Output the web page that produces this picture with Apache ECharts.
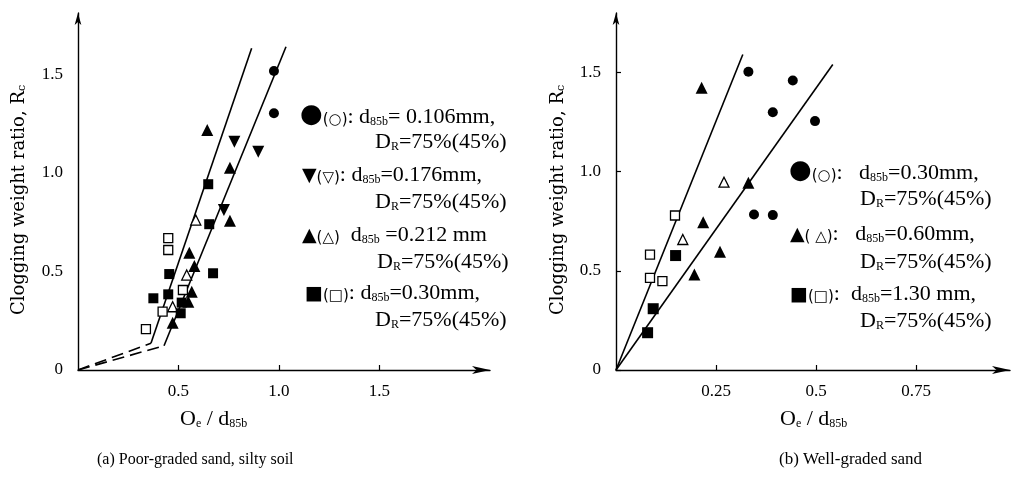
<!DOCTYPE html>
<html><head><meta charset="utf-8">
<script src="https://cdn.jsdelivr.net/npm/echarts@6/dist/echarts.min.js"></script>
<style>html,body{margin:0;padding:0;background:#fff}#c{width:1011px;height:483px}</style>
</head><body><div id="c"></div>
<script>
// ---- tick labels ----
const xTicksA = [0.5, 1.0, 1.5];
const xTicksB = [0.25, 0.5, 0.75];
const yTicks = [0, 0.5, 1.0, 1.5];

// ---- (a) Poor-graded sand, silty soil ----
const aCircleFilled = [[0.975, 1.518], [0.975, 1.303]];
const aDownTriFilled = [[0.778, 1.159], [0.897, 1.108], [0.726, 0.812]];
const aUpTriFilled = [[0.643, 1.218], [0.756, 1.027], [0.756, 0.758], [0.554, 0.595], [0.579, 0.528], [0.566, 0.397], [0.549, 0.347], [0.471, 0.240]];
const aUpTriOpen = [[0.586, 0.761], [0.541, 0.482], [0.471, 0.321]];
const aSquareFilled = [[0.648, 0.943], [0.653, 0.740], [0.672, 0.491], [0.454, 0.487], [0.449, 0.384], [0.375, 0.364], [0.516, 0.342], [0.511, 0.288]];
const aSquareOpen = [[0.449, 0.669], [0.449, 0.609], [0.522, 0.406], [0.421, 0.296], [0.338, 0.207]];
const aLine1Dash = [[0, 0], [0.363, 0.136]];
const aLine1 = [[0.363, 0.136], [0.864, 1.633]];
const aLine2Dash = [[0, 0], [0.428, 0.123]];
const aLine2 = [[0.428, 0.123], [1.035, 1.641]];

// ---- (b) Well-graded sand ----
const bCircleFilled = [[0.331, 1.504], [0.442, 1.46], [0.392, 1.30], [0.4975, 1.255], [0.345, 0.784], [0.392, 0.781]];
const bUpTriFilled = [[0.214, 1.423], [0.331, 0.944], [0.218, 0.745], [0.26, 0.596], [0.196, 0.482]];
const bUpTriOpen = [[0.27, 0.947], [0.167, 0.658]];
const bSquareFilled = [[0.149, 0.577], [0.093, 0.309], [0.079, 0.188]];
const bSquareOpen = [[0.1475, 0.779], [0.085, 0.582], [0.085, 0.465], [0.116, 0.448]];
const bLine1 = [[0, 0], [0.317, 1.591]];
const bLine2 = [[0, 0], [0.542, 1.54]];

const SERIF = 'Liberation Serif';
const WSERIF = 'DejaVu Serif';
const SYM = 'DejaVu Sans';
const chart = echarts.init(document.getElementById('c'), null, {renderer: 'canvas'});

function yFmt(v) { return v === 0 ? '0' : v.toFixed(1); }

function axisPair(gi, xmax, ymax, xTicks, xFmt, showYTicks) {
  const xa = {
    type: 'value', gridIndex: gi, min: 0, max: xmax,
    axisLine: {show: true, onZero: false, lineStyle: {color: '#000', width: 1.4}, symbol: ['none', 'arrow'], symbolSize: [6, 18]},
    axisTick: {show: true, inside: true, length: 5, customValues: xTicks, lineStyle: {color: '#000', width: 1.2}},
    axisLabel: {show: true, customValues: xTicks, formatter: xFmt, color: '#000', fontFamily: SERIF, fontSize: 17, margin: 13},
    splitLine: {show: false}
  };
  const ya = {
    type: 'value', gridIndex: gi, min: 0, max: ymax,
    axisLine: {show: true, onZero: false, lineStyle: {color: '#000', width: 1.4}, symbol: ['none', 'arrow'], symbolSize: [5, 12]},
    axisTick: {show: showYTicks, inside: true, length: 5, customValues: yTicks, lineStyle: {color: '#000', width: 1.2}},
    axisLabel: {show: true, customValues: yTicks, formatter: yFmt, color: '#000', fontFamily: SERIF, fontSize: 17, margin: 15},
    splitLine: {show: false}
  };
  return [xa, ya];
}

const [xa0, ya0] = axisPair(0, 2.05, 1.812, xTicksA, v => v.toFixed(1), false);
const [xa1, ya1] = axisPair(1, 0.985, 1.8, xTicksB, v => String(v), true);

function scatter(name, gi, data, symbol, size, filled, rotate) {
  return {
    name, type: 'scatter', xAxisIndex: gi, yAxisIndex: gi, data,
    symbol, symbolSize: size, symbolRotate: rotate || 0,
    itemStyle: filled ? {color: '#000', opacity: 1} : {color: '#fff', borderColor: '#000', borderWidth: 1.3, opacity: 1},
    z: 5
  };
}
function line(gi, data, dashed) {
  return {
    type: 'line', xAxisIndex: gi, yAxisIndex: gi, data, symbol: 'none', silent: true,
    lineStyle: {color: '#000', width: 1.6, type: dashed ? [12, 6] : 'solid'}, z: 3
  };
}

const richBase = {
  t: {fontFamily: SERIF, fontSize: 22, color: '#000', verticalAlign: 'bottom'},
  s: {fontFamily: SERIF, fontSize: 12, color: '#000', verticalAlign: 'bottom'},
  big: {fontFamily: SYM, fontSize: 26, color: '#000', verticalAlign: 'bottom'},
  mid: {fontFamily: SYM, fontSize: 19, color: '#000', verticalAlign: 'bottom'},
  sm: {fontFamily: SYM, fontSize: 15, color: '#000', verticalAlign: 'bottom'},
  w: {fontFamily: WSERIF, fontSize: 18, color: '#000', verticalAlign: 'bottom'},
  ws: {fontFamily: WSERIF, fontSize: 11, color: '#000', verticalAlign: 'bottom'}
};
function txt(x, y, text, extra) {
  return Object.assign({type: 'text', x, y, style: {text, rich: richBase, verticalAlign: 'middle', align: 'left'}}, extra || {});
}
function plain(x, y, text, size) {
  return {type: 'text', x, y, style: {text, fontFamily: SERIF, fontSize: size, fill: '#000', verticalAlign: 'middle', align: 'left'}};
}
function yTitle(x, y) {
  return {type: 'text', x, y, rotation: Math.PI / 2,
    style: {text: '{w|Clogging weight ratio, R}{ws|c}', rich: richBase, verticalAlign: 'middle', align: 'center'}};
}

const option = {
  backgroundColor: '#fff',
  animation: false,
  grid: [
    {left: 78, top: 13, width: 412, height: 357},
    {left: 616, top: 13, width: 394, height: 357}
  ],
  xAxis: [xa0, xa1],
  yAxis: [ya0, ya1],
  series: [
    line(0, aLine1Dash, true), line(0, aLine1, false),
    line(0, aLine2Dash, true), line(0, aLine2, false),
    scatter('a●', 0, aCircleFilled, 'circle', 10, true),
    scatter('a▼', 0, aDownTriFilled, 'triangle', 12, true, 180),
    scatter('a▲', 0, aUpTriFilled, 'triangle', 12, true),
    scatter('a△', 0, aUpTriOpen, 'triangle', 10, false),
    scatter('a■', 0, aSquareFilled, 'rect', 10, true),
    scatter('a□', 0, aSquareOpen, 'rect', 9, false),
    line(1, bLine1, false), line(1, bLine2, false),
    scatter('b●', 1, bCircleFilled, 'circle', 10, true),
    scatter('b▲', 1, bUpTriFilled, 'triangle', 12, true),
    scatter('b△', 1, bUpTriOpen, 'triangle', 10, false),
    scatter('b■', 1, bSquareFilled, 'rect', 11, true),
    scatter('b□', 1, bSquareOpen, 'rect', 9, false)
  ],
  graphic: [
    yTitle(19, 200),
    yTitle(558, 200),
    // legend (a)
    txt(300, 115, '{big|●}{sm|(○)}{t|: d}{s|85b}{t|= 0.106mm,}'),
    txt(375, 142, '{t|D}{s|R}{t|=75%(45%)}'),
    txt(302, 175, '{mid|▼}{sm|(▽)}{t|: d}{s|85b}{t|=0.176mm,}'),
    txt(375, 202, '{t|D}{s|R}{t|=75%(45%)}'),
    txt(302, 235, '{mid|▲}{sm|(△)}{t|  d}{s|85b}{t| =0.212 mm}'),
    txt(377, 262, '{t|D}{s|R}{t|=75%(45%)}'),
    txt(305, 293, '{mid|■}{sm|(□)}{t|: d}{s|85b}{t|=0.30mm,}'),
    txt(375, 320, '{t|D}{s|R}{t|=75%(45%)}'),
    // legend (b)
    txt(789, 171, '{big|●}{sm|(○)}{t|:   d}{s|85b}{t|=0.30mm,}'),
    txt(860, 199, '{t|D}{s|R}{t|=75%(45%)}'),
    txt(790, 234, '{mid|▲}{sm|( △)}{t|:   d}{s|85b}{t|=0.60mm,}'),
    txt(860, 262, '{t|D}{s|R}{t|=75%(45%)}'),
    txt(790, 294, '{mid|■}{sm|(□)}{t|:  d}{s|85b}{t|=1.30 mm,}'),
    txt(860, 321, '{t|D}{s|R}{t|=75%(45%)}'),
    // x axis titles
    txt(180, 419, '{t|O}{s|e}{t| / d}{s|85b}'),
    txt(780, 419, '{t|O}{s|e}{t| / d}{s|85b}'),
    // captions
    plain(97, 460, '(a) Poor-graded sand, silty soil', 16),
    plain(779, 460, '(b) Well-graded sand', 17)
  ]
};
chart.setOption(option);
</script>
</body></html>
